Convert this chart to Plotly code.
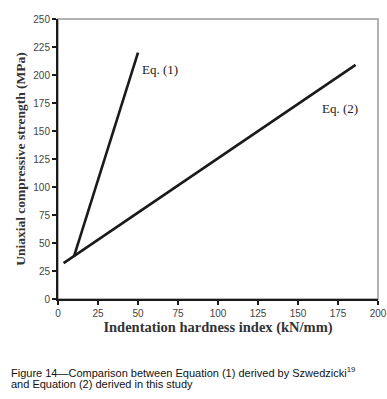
import plotly.graph_objects as go

# Data
eq1_x = [10, 50]
eq1_y = [38, 220]
eq2_x = [3.5, 186]
eq2_y = [32, 209]
label_names = ["Eq. (1)", "Eq. (2)"]
label_x = [51, 164]
label_y = [205, 170]
x_ticks = [0, 25, 50, 75, 100, 125, 150, 175, 200]
y_ticks = [0, 25, 50, 75, 100, 125, 150, 175, 200, 225, 250]

fig = go.Figure()
for xs, ys in [(eq1_x, eq1_y), (eq2_x, eq2_y)]:
    fig.add_trace(go.Scatter(x=xs, y=ys, mode="lines",
                             line=dict(color="#1a1a1a", width=2.6),
                             showlegend=False, hoverinfo="skip"))

for name, lx, ly in zip(label_names, label_x, label_y):
    fig.add_annotation(x=lx, y=ly, text=name, showarrow=False, xanchor="left",
                       yanchor="middle",
                       font=dict(family="Liberation Serif", size=13, color="#222"))

fig.add_shape(type="rect", xref="paper", yref="paper", x0=0, y0=0, x1=1, y1=1,
              line=dict(color="#999", width=1.5), layer="below")

fig.update_xaxes(range=[0, 200], tickvals=x_ticks, showgrid=False, zeroline=False,
                 showline=True, linecolor="#1a1a1a", linewidth=2, automargin=False,
                 ticks="outside", ticklen=4, tickcolor="#1a1a1a", tickwidth=1.5,
                 ticklabeloverflow="allow",
                 tickfont=dict(family="Liberation Sans", size=10, color="#444"),
                 title=dict(text="<b>Indentation hardness index (kN/mm)</b>",
                            font=dict(family="Liberation Serif", size=14.5, color="#333"),
                            standoff=2))
fig.update_yaxes(range=[0, 250], tickvals=y_ticks, showgrid=False, zeroline=False,
                 showline=True, linecolor="#1a1a1a", linewidth=2, automargin=False,
                 ticks="outside", ticklen=4, tickcolor="#1a1a1a", tickwidth=1.5,
                 ticklabeloverflow="allow",
                 tickfont=dict(family="Liberation Sans", size=10, color="#444"),
                 title=dict(text="<b>Uniaxial compressive strength (MPa)</b>",
                            font=dict(family="Liberation Serif", size=13.5, color="#333"),
                            standoff=5))

cap_font = dict(family="Liberation Sans", size=11, color="#111")
fig.add_annotation(xref="paper", yref="paper", x=-0.153, y=-0.261, xanchor="left",
                   yanchor="middle", showarrow=False, align="left",
                   text="Figure 14\u2014Comparison between Equation (1) derived by Szwedzicki<sup>19</sup>",
                   font=cap_font)
fig.add_annotation(xref="paper", yref="paper", x=-0.153, y=-0.304, xanchor="left",
                   yanchor="middle", showarrow=False, align="left",
                   text="and Equation (2) derived in this study", font=cap_font)

fig.update_layout(width=387, height=399, margin=dict(l=58, r=9, t=19, b=100),
                  plot_bgcolor="white", paper_bgcolor="white")
fig.write_html("out.html", config={"displayModeBar": False},
               post_script="document.body.style.margin='0';document.body.style.overflow='hidden';")
